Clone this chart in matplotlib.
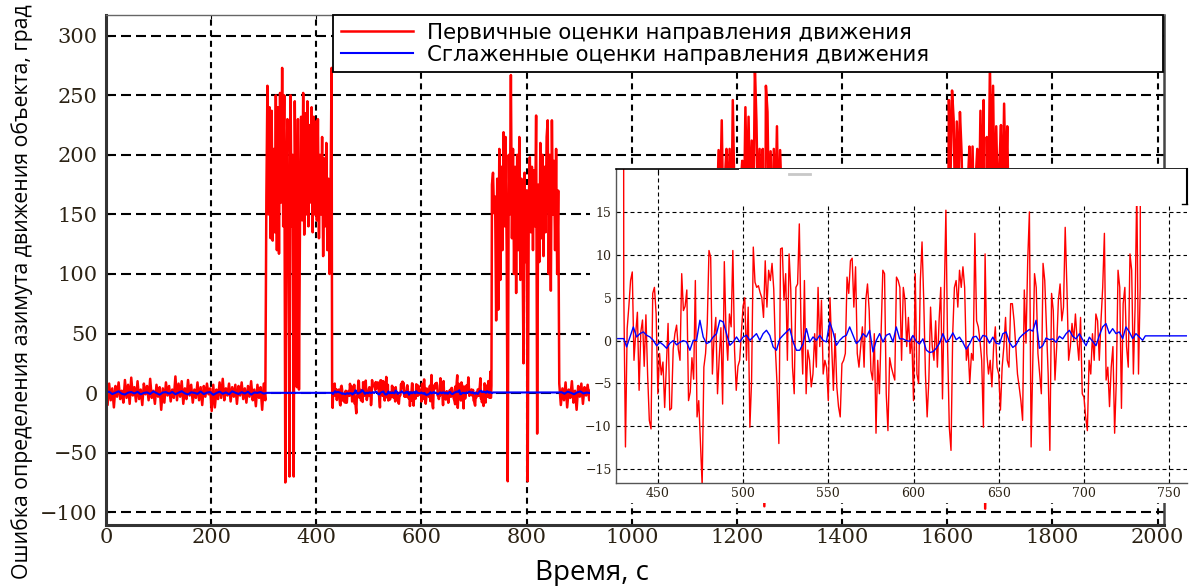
import numpy as np
import matplotlib.pyplot as plt
from matplotlib.patches import Rectangle

# ------------------------------------------------------------
# Raw heading error estimates (red), degrees
# each piece: start time [s], sample step [s], values
# ------------------------------------------------------------
raw_quiet_a = [12, -10, 8, -6, 4, -12, 6, -3, 9, -5, 2, -8, 11, -4, 7, -9, 13, -2, 5, -7,
               10, -5, 3, -10, 8, -1, 6, -6, 12, -4, 2, -9, 7, -3, 5, -14, 4, -8, 9, -2,
               6, -7, 3, -4, 14, -6, 8, -3, 10, -9, 4, -5, 11, -2, 7, -8, 3, -4, 9, -6,
               5, -10, 6, -3, 8, -1, 4, -15, 7, -12, 3, -5, 9, -4, 12, -6, 4, -2, 8, -7,
               5, -3, 7, -9, 6, -2, 9, -5, 4, -8, 6, -3, 10, -6, 3, -11, 7, -4, 5, -14,
               8, -6]

raw_burst_1 = [165, 258, 150, 240, 130, 237, 128, 205, 135, 250, 120, 240, 117, 252, 160, 273,
               140, 250, -75, 180, 230, 110, -70, 250, 140, 200, -70, 245, 150, 5, 230, 3,
               150, 232, 145, 252, 133, 235, 150, 245, 140, 225, 160, 240, 135, 232, 150, 228,
               145, 230, 130, 200, 150, 215, 115, 197, 140, 210, 120, 180, 100, 165, 273]

raw_quiet_b = [6.0, -12.4, 1.4, 4.0, 7.0, 8.0, -2.3, 0.8, 3.3, -5.8,
               1.0, 2.4, -3.0, 3.0, -4.0, -9.3, -10.3, 5.5, 6.2, 3.1,
               -6.2, -1.5, -4.0, -2.5, -7.8, -3.0, 2.0, -8.1, -7.9, -1.0,
               0.8, 1.8, -1.0, -2.3, 7.8, 3.5, 4.0, 5.9, -7.0, -6.0,
               -2.0, -4.5, 7.0, -8.9, -7.0, -12.0, -16.9, -3.1, -1.5, 2.0,
               10.5, 9.7, -3.9, 0.5, 2.7, -6.2, -2.0, 1.5, -7.4, 9.2,
               1.0, -2.3, 3.1, 1.6, 10.5, -1.1, -5.8, -3.0, -2.3, 0.8,
               4.0, 5.0, -2.3, 3.9, -10.1, -4.6, 10.9, 6.8, 6.2, 6.4,
               5.6, 5.0, 2.7, 9.3, 3.9, 8.2, 7.0, 9.0, 6.0, -1.1,
               -5.4, -12.0, 10.7, 10.8, 4.7, 7.8, -2.3, 10.1, 5.9, -3.1,
               -6.2, 6.2, 6.6, 13.6, 1.6, -3.9, 7.0, -6.2, -1.1, -2.3,
               -5.4, -3.9, 0.8, -3.1, 6.2, -0.7, 4.7, -3.9, -2.3, -3.1,
               -7.0, 5.0, -0.7, -5.8, 0.8, -5.4, -7.7, -8.9, -2.7, -2.3,
               -1.5, 7.4, 5.5, 9.3, 9.6, 3.9, 8.6, -1.5, -3.1, -0.7,
               1.6, -3.1, 4.7, 6.6, 3.5, -3.5, -4.6, 0.8, -10.8, -2.3,
               -6.2, 1.0, 8.2, 7.8, -6.2, -10.5, -2.0, -3.1, -3.9, -4.6,
               7.4, 7.0, 6.2, -2.3, 6.2, 4.7, -0.7, 2.7, -1.5, 0.4,
               -7.0, 7.8, -3.9, -5.0, 7.0, 11.5, 4.7, -3.9, -8.9, -4.6,
               3.9, -0.7, -2.3, 2.3, -3.1, 2.3, 6.2, -6.8, 4.7, 15.2,
               -0.7, -10.1, -12.8, 0.8, 6.2, 7.0, 3.9, 8.2, 6.2, 8.6,
               6.2, -2.3, -0.7, -5.0, -1.5, -2.3, 12.5, 2.3, 1.6, 0.0,
               -2.3, -10.1, 10.1, -1.5, -3.9, -2.3, -5.4, -0.7, 1.6, -3.1,
               -3.9, -8.1, -3.1, -0.7, 2.7, -2.3, -3.1, 4.3, 4.3, 2.3,
               -0.7, -3.9, -5.4, -7.0, -9.3, 5.9, -0.3, 9.3, 15.0, -12.4,
               -2.3, 7.8, 6.2, -1.5, -3.9, -6.2, 9.0, 7.0, 1.6, -3.9,
               -12.8, 5.5, 3.5, -4.6, -0.7, 4.7, 6.6, 2.3, 3.9, 13.2,
               6.2, -2.3, -0.7, 2.0, 0.0, 3.1, 0.0, -2.3, 2.7, -6.2,
               -6.6, -8.9, -10.5, -2.3, -3.9, 0.8, -2.3, 3.1, 2.3, -2.3,
               2.3, 6.2, 12.5, -4.6, -3.1, -7.7, -3.1, -0.7, -10.8, -4.6,
               8.2, 6.2, -7.9, 4.3, 6.2, -0.7, -3.1, 10.1, 8.2, -3.9,
               3.9, 18.0, -3.9, 6.2]

raw_burst_2 = [175, 185, 151, 165, 61, 180, 70, 205, 95, 190, 120, 219, 140, 215, 120, -74,
               200, 150, 267, 130, 205, 100, 190, 84, 200, 120, 215, 95, 180, 130, 25, 185,
               110, 170, -74, 160, 198, 135, 190, 120, 187, 140, 233, -34, 175, 110, 210, 130,
               200, 115, 190, 135, 215, 229, 100, 200, 86, 229, 150, 195, 120, 205, 100, 170]

raw_quiet_c = [8, -10, 4, -6, 9, -12, 3, -4, 10, -8, 2, -14, 6, -3, 8, -9, 5, -2, 7, -6, 3]
raw_quiet_c_tail = [4, -5, 6, -3, 2, -7, 5, -2, 8, -4, 3, -6, 7, -3, 1, -8, 4, -2, 6, -5,
                    3, -4, 5, -1]

raw_burst_3 = [150, 204, 160, 229, 140, 180, 205, 150, 205, 120, 246, 170, 130, 185, 110, 175,
               195, 140, 240, 160, 232, 150, 212, 130, 275, 228, 150, 205, 120, 205, -95, 258,
               236, 140, 203, 120, 205, 150, 224, 130, 204, 160, 180, 120, 170, 140, 160, 120, 5]

raw_quiet_d = [3, -6, 5, -2, 7, -4, 2, -8, 6, -3, 4, -5, 8, -1, 3, -7, 5, -2, 6, -4,
               2, -6, 7, -3, 4, -5, 3, -2, 6, -4]

raw_burst_4 = [246, 180, 254, 230, 150, 228, 170, 236, 203, 140, 185, 120, 175, 207, 150, 207,
               130, 180, 205, 140, 237, 160, 246, -97, 215, 150, 275, 180, 258, 140, 224, 160,
               190, 225, 150, 243, 170, 224, 130, 4]

raw_quiet_e = [-3, 5, -6, 2, 7, -4, 3, -8, 6, -2, 4, -5, 8, -3, 2, -6, 5, -1, 7, -4,
               3, -7, 6, -2, 4, -5, 2, -3]

raw_pieces = [
    (0, 3, raw_quiet_a),
    (305, 2, raw_burst_1),
    (430, 1, raw_quiet_b),
    (734, 2, raw_burst_2),
    (862, 3, raw_quiet_c),
    (930, 10, raw_quiet_c_tail),
    (1162, 3, raw_burst_3),
    (1310, 10, raw_quiet_d),
    (1603, 3, raw_burst_4),
    (1725, 10, raw_quiet_e),
]

# ------------------------------------------------------------
# Smoothed estimates (blue), degrees
# ------------------------------------------------------------
smooth_quiet_a = [0.5, 1.2, -0.8, 0.3, 1.5, -0.5, -1.2, 0.4, 0.9, -0.3,
                  1.1, -1.0, 0.2, 0.6, -0.7, 1.4, 0.1, -1.3, 0.5, 0.8,
                  -0.4, 1.0, -0.9, 0.3, 1.6, -0.2, -1.1, 0.7, 0.2, -0.6,
                  1.3, -0.8, 0.4, 0.9, -1.4, 0.1, 1.2, -0.5, 0.6, -0.9,
                  1.5, 0.3, -0.7, 0.8, -0.3, 1.1, -1.2, 0.5, 0.2, 0.9, -0.4]

smooth_quiet_b = [-0.74, 0.42, 1.59, 0.42, 0.81, 1.01, 0.62, 0.42, 0.03, -0.6,
                  -0.2, -0.5, -0.9, -0.3, 0.0, -0.5, -0.2, 0.0, -0.16, -1.13,
                  0.03, 0.03, 2.37, 0.42, -0.35, -0.16, 0.42, 0.81, 2.37, 2.17,
                  0.81, -0.55, -0.16, 0.42, -0.16, 0.42, 0.62, 0.03, 0.42, 0.81,
                  0.03, 0.81, 1.20, 0.6, -0.74, -1.13, 0.2, 0.62, 1.01, 1.39,
                  -0.16, -1.13, -1.13, -0.35, 1.39, -0.16, 0.42, 0.03, 0.62, 0.03,
                  -0.16, 2.17, 1.0, -0.55, 0.03, 0.42, 0.62, 1.59, 0.62, -0.35,
                  0.03, 0.81, 0.42, 1.20, -1.32, 0.03, 0.81, -0.16, 0.62, 0.81,
                  -0.16, 1.59,
                  0.2, 0.2, 0.0, -0.1, 0.6, -0.1, -0.4, 0.2, -1.1, -1.4,
                  -1.3, -0.9, -0.3, 0.8, -0.2, 0.2, 0.9, 0.1, 0.4, -0.2,
                  -1.0, -0.4, 0.4, 0.5, -0.1, 0.6, 0.5, -0.3, 0.4, -0.3,
                  -0.4, 0.8, 1.0, -0.2, -0.8, -0.5, 0.3, 0.7, 1.0, 1.3,
                  1.1, 2.37, -0.9, -0.6, 0.3, 0.1, 0.2, -0.2, 0.5, 0.2,
                  0.8, 1.2, 0.5, 0.2, 0.8, 0.1, -0.6, 0.4, -0.1, -0.6,
                  0.6, 1.6, 1.98, 0.81, 1.39, 0.81, 1.01, 0.23, 1.59, 1.01,
                  0.23, 0.81, 0.42, 0.03]

smooth_quiet_c = [0.8, -0.5, 1.2, 0.3, -0.9, 0.6, 1.4, -0.3, 0.5, 0.1]

smooth_pieces = [
    (0, 6, smooth_quiet_a),
    (306, 124, [0.23, 0.23]),        # held through the first jump
    (431.7, 1.953, smooth_quiet_b),
    (736, 126, [0.55, 0.55]),        # held through the second jump
    (866, 6, smooth_quiet_c),
    (926, 1086, [0.3, 0.3]),
]

label_raw = "Первичные оценки направления движения"
label_smooth = "Сглаженные оценки направления движения"


def join(pieces):
    t, v = [], []
    for t0, dt, vals in pieces:
        t.append(t0 + dt * np.arange(len(vals)))
        v.append(np.asarray(vals, dtype=float))
    return np.concatenate(t), np.concatenate(v)


t_raw, v_raw = join(raw_pieces)
t_sm, v_sm = join(smooth_pieces)

plt.rcParams['font.family'] = 'DejaVu Serif'
tick_color = '#2b2214'

fig = plt.figure(figsize=(11.91, 5.86), dpi=100)

# ---- main axes ----
ax = fig.add_axes([0.0890, 0.1041, 0.8883, 0.8703])
ax.plot(t_raw, v_raw, color='#ff0000', lw=1.8, label=label_raw)
ax.plot(t_sm, v_sm, color='#0000ff', lw=1.5, label=label_smooth)
ax.set_xlim(0, 2012)
ax.set_ylim(-110.7, 317.4)
ax.set_xticks(range(0, 2001, 200))
ax.set_yticks(range(-100, 301, 50))
ax.set_axisbelow(True)
ax.xaxis.grid(True, color='black', lw=1.5, linestyle=(0, (2.9, 2.2)))
ax.yaxis.grid(True, color='black', lw=1.5, linestyle=(0, (4.8, 2.4)))
ax.tick_params(direction='in', length=3, top=True, right=True,
               labelsize=15, labelcolor=tick_color)
ax.tick_params(axis='x', pad=2)
ax.tick_params(axis='y', pad=6)
for side, lw, col in [('left', 2.2, '#333333'), ('bottom', 2.2, '#333333'),
                      ('top', 1.0, '#666666'), ('right', 1.8, '#444444')]:
    ax.spines[side].set_linewidth(lw)
    ax.spines[side].set_color(col)

ax.set_ylabel("Ошибка определения азимута движения объекта, град",
              fontfamily='Open Sans', fontsize=15.3, color='black')
ax.yaxis.set_label_coords(-0.069, 0.457)
ax.set_xlabel("Время, с", fontfamily='Open Sans', fontsize=20, color='black')
ax.xaxis.set_label_coords(0.459, -0.066)

leg = ax.legend(loc='upper left', bbox_to_anchor=(0.2146, 0.8863, 0.7845, 0.1137),
                mode='expand', borderaxespad=0, prop={'family': 'DejaVu Sans', 'size': 15.3},
                handlelength=3.4, handletextpad=0.65, borderpad=0.36, labelspacing=0.1,
                fancybox=False, framealpha=1)
leg.get_frame().set_edgecolor('black')
leg.get_frame().set_linewidth(1.3)

# white backing under the zoomed view
fig.add_artist(Rectangle((0.4954, 0.1416), 0.5046, 0.5717, transform=fig.transFigure,
                         facecolor='white', edgecolor='none', zorder=1))

# ---- zoomed view of the quiet interval ----
axi = fig.add_axes([0.5170, 0.1758, 0.4797, 0.5358])
axi.set_zorder(2)
axi.plot(t_raw, v_raw, color='#ff0000', lw=1.0)
axi.plot(t_sm, v_sm, color='#0000ff', lw=1.0)
axi.set_xlim(425.3, 760.5)
axi.set_ylim(-16.6, 20)
axi.set_xticks(range(450, 751, 50))
axi.set_yticks(range(-15, 16, 5))
axi.set_axisbelow(True)
axi.grid(True, color='black', lw=0.8, linestyle=(0, (3.6, 2.7)))
axi.tick_params(direction='in', length=3, top=True, right=False,
                labelsize=9, labelcolor=tick_color, pad=3)
axi.spines['right'].set_visible(False)
for side in ['left', 'bottom']:
    axi.spines[side].set_color('#555555')
    axi.spines[side].set_linewidth(1.0)
axi.spines['top'].set_color('black')
axi.spines['top'].set_linewidth(1.2)

# empty legend box in the corner of the zoomed view
axi.add_patch(Rectangle((497.5, 15.7), 263.5, 4.5, facecolor='white',
                        edgecolor='none', zorder=3))
axi.plot([760.2, 760.2], [15.9, 20], color='black', lw=1.5, zorder=4, clip_on=False)
axi.plot([757.6, 760.2], [15.9, 15.9], color='black', lw=1.0, zorder=4, clip_on=False)
axi.plot([527, 539], [19.4, 19.4], color='#c8c8c8', lw=2.0, zorder=4)

fig.savefig('out.png', dpi=100)
